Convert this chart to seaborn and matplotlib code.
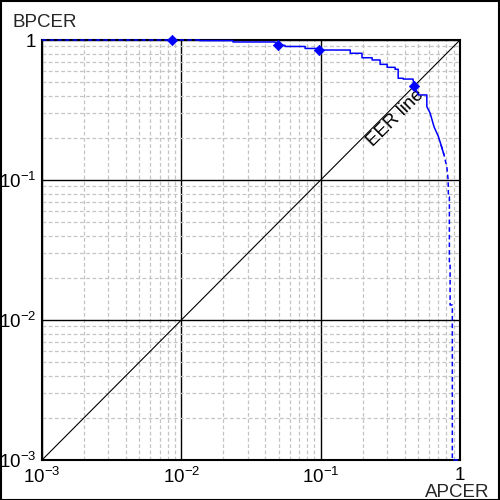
import matplotlib
matplotlib.use("Agg")
import matplotlib.pyplot as plt
from matplotlib.patches import Rectangle
from matplotlib.ticker import FixedLocator, LogLocator, NullFormatter
import numpy as np
import pandas as pd
import seaborn as sns

# DET curve vertices (APCER, BPCER)
apcer = [0.001, 0.0135, 0.0135, 0.0235, 0.0235, 0.047, 0.049, 0.0554, 0.0554,
         0.0773, 0.0773, 0.0957, 0.0957, 0.163, 0.163, 0.198, 0.198, 0.234,
         0.234, 0.267, 0.267, 0.300, 0.300, 0.342, 0.342, 0.360, 0.360, 0.391,
         0.391, 0.460, 0.468, 0.503, 0.578, 0.578, 0.610, 0.651, 0.700, 0.731,
         0.768, 0.804, 0.822, 0.826, 0.839, 0.839, 0.849, 0.849, 0.881, 0.881, 1.0]
bpcer = [1.0, 1.0, 0.99, 0.99, 0.968, 0.968, 0.916, 0.916, 0.899,
         0.899, 0.870, 0.870, 0.848, 0.848, 0.804, 0.804, 0.747, 0.747,
         0.720, 0.720, 0.670, 0.670, 0.638, 0.638, 0.618, 0.618, 0.533, 0.533,
         0.526, 0.526, 0.469, 0.405, 0.405, 0.334, 0.301, 0.240, 0.204, 0.178,
         0.151, 0.1245, 0.100, 0.0756, 0.0756, 0.0255, 0.0255, 0.0128, 0.0128, 0.001, 0.001]

marker_apcer = [0.0086, 0.049, 0.097, 0.468]
marker_bpcer = [1.0, 0.916, 0.848, 0.469]

ticks = [0.001, 0.01, 0.1, 1.0]
tick_labels = ["10$^{-3}$", "10$^{-2}$", "10$^{-1}$", "1"]

sns.set_theme(style="white")
plt.rcParams.update({
    "font.family": ["Liberation Sans", "DejaVu Sans"],
    "mathtext.fontset": "custom",
    "mathtext.rm": "Liberation Sans",
    "mathtext.it": "Liberation Sans",
    "mathtext.default": "regular",
})

fig = plt.figure(figsize=(5, 5), dpi=100)
fig.patches.append(Rectangle((0.001, 0.001), 0.997, 0.997, transform=fig.transFigure,
                             fill=False, edgecolor="black", linewidth=1.5))
ax = fig.add_axes([0.084, 0.08, 0.836, 0.84])
ax.set_xscale("log")
ax.set_yscale("log")
ax.set_xlim(0.001, 1)
ax.set_ylim(0.001, 1)

ax.xaxis.set_minor_locator(LogLocator(base=10, subs=np.arange(2, 10)))
ax.yaxis.set_minor_locator(LogLocator(base=10, subs=np.arange(2, 10)))
ax.xaxis.set_minor_formatter(NullFormatter())
ax.yaxis.set_minor_formatter(NullFormatter())
ax.grid(which="minor", color="#c4c4c4", linestyle=(0, (3, 2)), linewidth=0.9)
ax.grid(which="major", color="black", linestyle="-", linewidth=1.0)
ax.set_axisbelow(True)

ax.xaxis.set_major_locator(FixedLocator(ticks))
ax.yaxis.set_major_locator(FixedLocator(ticks))
ax.set_xticklabels(tick_labels)
ax.set_yticklabels(tick_labels)
ax.tick_params(which="both", length=0, labelsize=13.5, colors="black")
ax.tick_params(axis="x", pad=5)
ax.tick_params(axis="y", pad=4)

for s in ax.spines.values():
    s.set_color("black")
    s.set_linewidth(1.5)

# EER diagonal
ax.plot([0.001, 1], [0.001, 1], color="black", linewidth=0.8, zorder=2)
ax.text(0.345, 0.275, "EER line", rotation=45, ha="center", va="center",
        fontsize=13.5, color="black", zorder=3)

df = pd.DataFrame({"APCER": apcer, "BPCER": bpcer})
# top and lower parts look dashed in the reference, the middle is solid
pieces = [(df.iloc[0:2], (0, (3, 2))), (df.iloc[1:39], "-"), (df.iloc[37:], (0, (3, 2)))]
for part, style in pieces:
    sns.lineplot(data=part, x="APCER", y="BPCER", sort=False, estimator=None,
                 color="#0000ff", linewidth=1.1, linestyle=style, ax=ax,
                 zorder=4, clip_on=False)

sns.scatterplot(x=marker_apcer, y=marker_bpcer, color="#0000ff", marker="D",
                s=28, edgecolor="#0000ff", linewidth=0.5, ax=ax, zorder=5,
                clip_on=False)

ax.set_xlabel("")
ax.set_ylabel("")
fig.text(0.024, 0.955, "BPCER", fontsize=13.5, ha="left", va="center")
fig.text(0.978, 0.015, "APCER", fontsize=13.5, ha="right", va="center")

fig.savefig("out.png", dpi=100)
plt.close(fig)
